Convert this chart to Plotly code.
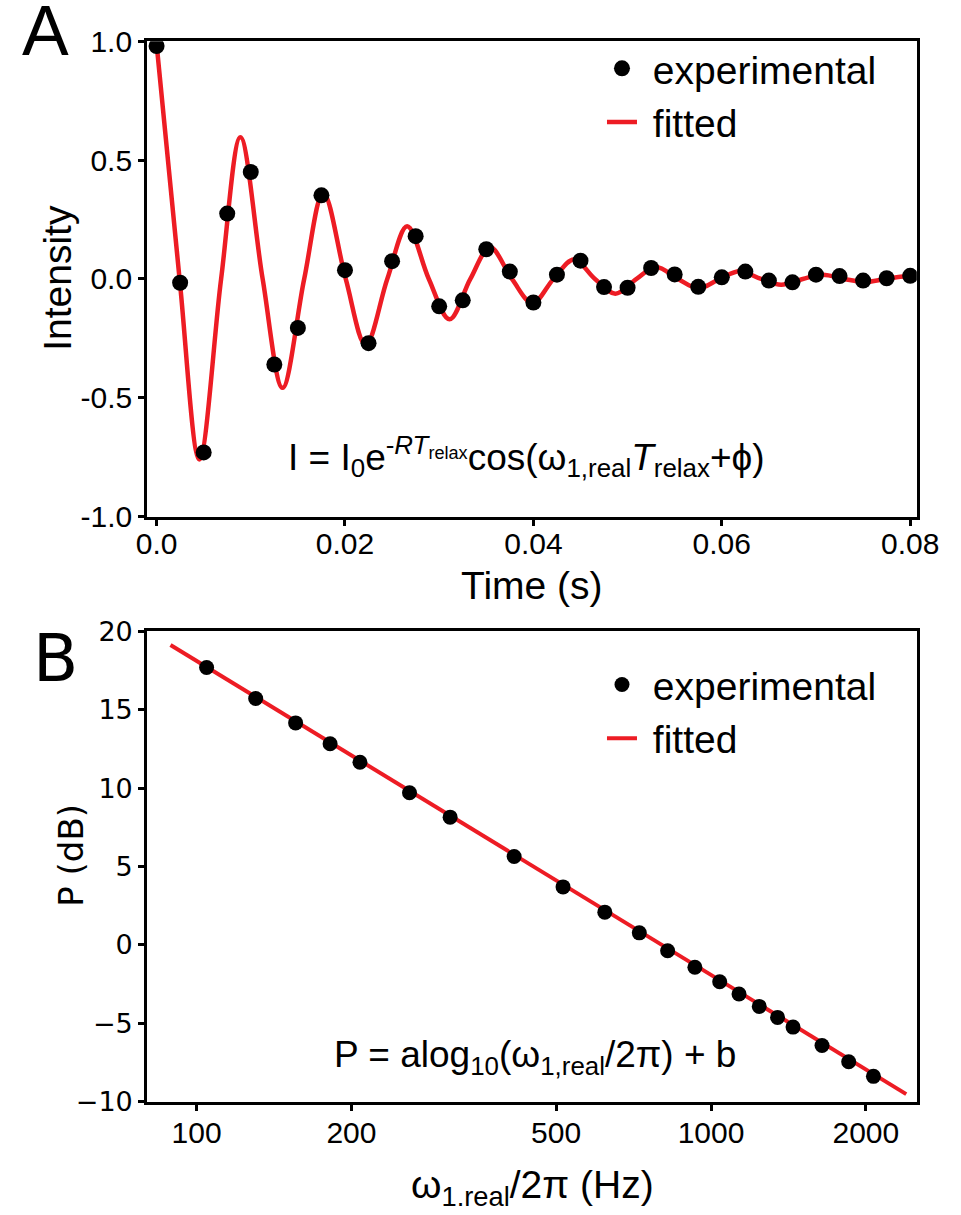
import plotly.graph_objects as go

W, H = 961, 1215

# ---------------- Panel A : damped oscillation ----------------
t_exp = [0.0, 0.0025, 0.005, 0.0075, 0.010, 0.0125, 0.015, 0.0175, 0.020, 0.0225,
         0.025, 0.0275, 0.030, 0.0325, 0.035, 0.0375, 0.040, 0.0425, 0.045, 0.0475,
         0.050, 0.0525, 0.055, 0.0575, 0.060, 0.0625, 0.065, 0.0675, 0.070, 0.0725,
         0.075, 0.0775, 0.080]
I_exp = [0.98, -0.016, -0.73, 0.275, 0.45, -0.36, -0.206, 0.352, 0.037, -0.27,
         0.075, 0.18, -0.115, -0.09, 0.125, 0.031, -0.099, 0.018, 0.077, -0.034,
         -0.037, 0.046, 0.019, -0.033, 0.007, 0.031, -0.007, -0.014, 0.018, 0.012,
         -0.007, 0.003, 0.013]

# fitted curve: values read at its extrema and zero crossings
t_fit = [0.0, 0.00244, 0.00454, 0.00685, 0.0089, 0.01126, 0.01337, 0.01567, 0.0177,
         0.02008, 0.0222, 0.02449, 0.0266, 0.0289, 0.0311, 0.03331, 0.0354, 0.03772,
         0.0399, 0.04213, 0.0443, 0.04654, 0.0487, 0.05095, 0.0530, 0.05536, 0.0575,
         0.05977, 0.0619, 0.06418, 0.0663, 0.06859, 0.0707, 0.0730, 0.0751, 0.07741,
         0.0795, 0.0806]
I_fit = [0.99, 0.0, -0.76, 0.0, 0.596, 0.0, -0.458, 0.0, 0.362,
         0.0, -0.278, 0.0, 0.222, 0.0, -0.170, 0.0, 0.133, 0.0,
         -0.102, 0.0, 0.082, 0.0, -0.062, 0.0, 0.050, 0.0, -0.040,
         0.0, 0.032, 0.0, -0.024, 0.0, 0.018, 0.0, -0.013, 0.0,
         0.011, 0.009]

xticks_A = [0.0, 0.02, 0.04, 0.06, 0.08]
xticklabels_A = ["0.0", "0.02", "0.04", "0.06", "0.08"]
yticks_A = [1.0, 0.5, 0.0, -0.5, -1.0]
yticklabels_A = ["1.0", "0.5", "0.0", "-0.5", "-1.0"]

# ---------------- Panel B : power calibration ----------------
f_exp = [104.6, 130.3, 155.8, 181.8, 207.8, 259.4, 311.1, 414.3, 515.7, 621.7,
         725.5, 823.5, 930.4, 1039.7, 1133.6, 1241, 1347, 1443.6, 1643.6, 1852, 2069]
P_exp = [17.69, 15.72, 14.16, 12.83, 11.65, 9.71, 8.15, 5.64, 3.70, 2.09,
         0.77, -0.37, -1.42, -2.35, -3.13, -3.92, -4.62, -5.24, -6.41, -7.45, -8.38]
f_fit = [89, 2396]
P_fit = [19.13, -9.51]

xticks_B = [100, 200, 500, 1000, 2000]
xticklabels_B = ["100", "200", "500", "1000", "2000"]
yticks_B = [20, 15, 10, 5, 0, -5, -10]
yticklabels_B = ["20", "15", "10", "5", "0", "\u22125", "\u221210"]

RED = "#ed1c24"
ARIAL = "Liberation Sans, Arial, sans-serif"
DEJAVU = "DejaVu Sans, sans-serif"
NB = "\u00a0"

fig = go.Figure()

# Panel A traces
fig.add_trace(go.Scatter(x=t_fit, y=I_fit, mode="lines", name=NB + "fitted",
                         line=dict(color=RED, width=4.5, shape="spline", smoothing=1.0),
                         xaxis="x", yaxis="y", legend="legend", legendrank=2))
fig.add_trace(go.Scatter(x=t_exp, y=I_exp, mode="markers", name=NB + "experimental",
                         marker=dict(color="black", size=16),
                         xaxis="x", yaxis="y", legend="legend", legendrank=1))
# Panel B traces
fig.add_trace(go.Scatter(x=f_fit, y=P_fit, mode="lines", name=NB + "fitted",
                         line=dict(color=RED, width=4),
                         xaxis="x2", yaxis="y2", legend="legend2", legendrank=2))
fig.add_trace(go.Scatter(x=f_exp, y=P_exp, mode="markers", name=NB + "experimental",
                         marker=dict(color="black", size=15),
                         xaxis="x2", yaxis="y2", legend="legend2", legendrank=1))

def px_x(p):
    return p / W

def px_y(p):
    return 1 - p / H

axis_common = dict(showline=True, linewidth=3, linecolor="black", mirror=True,
                   ticks="outside", ticklen=6, tickwidth=2.5, tickcolor="black",
                   showgrid=False, zeroline=False)

xdom = [px_x(141), px_x(938)]

fig.update_layout(
    width=W, height=H,
    margin=dict(l=0, r=0, t=0, b=0),
    paper_bgcolor="white", plot_bgcolor="white",
    showlegend=True,
    xaxis=dict(domain=xdom, anchor="y", range=[-0.001, 0.0807],
               tickmode="array", tickvals=xticks_A, ticktext=xticklabels_A,
               ticklabelstandoff=-8,
               tickfont=dict(family=ARIAL, size=30, color="black"), **axis_common),
    yaxis=dict(domain=[px_y(514), px_y(25)], anchor="x", range=[-1.0, 1.0],
               tickmode="array", tickvals=yticks_A, ticktext=yticklabels_A,
               tickfont=dict(family=ARIAL, size=30, color="black"), **axis_common),
    xaxis2=dict(domain=xdom, anchor="y2", type="log", range=[1.904, 3.40],
                tickmode="array", tickvals=xticks_B, ticktext=xticklabels_B,
                ticklabelstandoff=-4,
                tickfont=dict(family=ARIAL, size=30, color="black"), **axis_common),
    yaxis2=dict(domain=[px_y(1116), px_y(632)], anchor="x2", range=[-10, 20],
                tickmode="array", tickvals=yticks_B, ticktext=yticklabels_B,
                tickfont=dict(family=DEJAVU, size=27, color="black"), **axis_common),
    legend=dict(x=px_x(612), y=px_y(20), xanchor="left", yanchor="top",
                bgcolor="rgba(0,0,0,0)", borderwidth=0, tracegroupgap=0,
                font=dict(family=ARIAL, size=39, color="black")),
    legend2=dict(x=px_x(612), y=px_y(654), xanchor="left", yanchor="top",
                 bgcolor="rgba(0,0,0,0)", borderwidth=0, tracegroupgap=0,
                 font=dict(family=ARIAL, size=39, color="black")),
)

ann = []
def add_text(text, x, y, size, family=ARIAL, angle=0, xanchor="center", yanchor="middle"):
    ann.append(dict(text=text, x=px_x(x), y=px_y(y), xref="paper", yref="paper",
                    showarrow=False, textangle=angle, xanchor=xanchor, yanchor=yanchor,
                    font=dict(family=family, size=size, color="black")))

add_text("A", 36, 14, 70)
add_text("B", 46, 660, 66, family=DEJAVU)
add_text("Intensity", 48, 268, 39, angle=-90)
add_text("Time (s)", 540, 585, 39)
add_text("P (dB)", 62, 862, 34, family=DEJAVU, angle=-90)
add_text("\u03c9<sub>1.real</sub>/2\u03c0 (Hz)", 540, 1204, 39)
add_text("I = I<sub>0</sub>e<sup>-<i>RT</i><sub>relax</sub></sup>cos(\u03c9<sub>1,real</sub>"
         "<i>T</i><sub>relax</sub>+\u03d5)", 534, 452, 37)
add_text("P = alog<sub>10</sub>(\u03c9<sub>1,real</sub>/2\u03c0) + b", 543, 1070, 37)
fig.update_layout(annotations=ann)

fig.write_html("out.html")
